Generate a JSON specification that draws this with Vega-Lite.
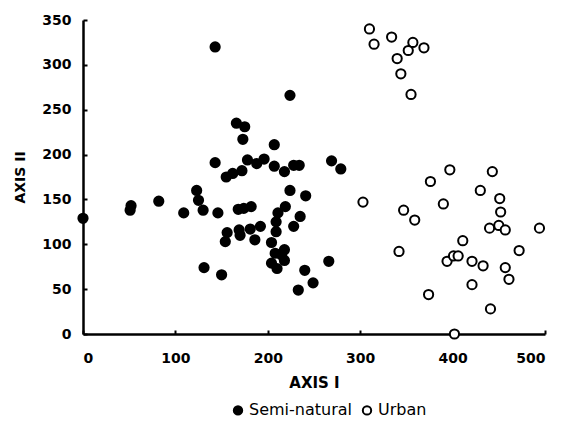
{
  "$schema": "https://vega.github.io/schema/vega-lite/v6.json",
  "autosize": "none",
  "width": 462,
  "height": 314,
  "padding": {"left": 83, "top": 20, "right": 18, "bottom": 87},
  "background": "white",
  "config": {"view": {"stroke": null}, "font": "DejaVu Sans"},
  "data": {"values": [
    {"x": 0, "y": 129, "g": "Semi-natural"},
    {"x": 52, "y": 143, "g": "Semi-natural"},
    {"x": 51, "y": 138, "g": "Semi-natural"},
    {"x": 82, "y": 148, "g": "Semi-natural"},
    {"x": 109, "y": 135, "g": "Semi-natural"},
    {"x": 123, "y": 160, "g": "Semi-natural"},
    {"x": 125, "y": 149, "g": "Semi-natural"},
    {"x": 130, "y": 138, "g": "Semi-natural"},
    {"x": 146, "y": 135, "g": "Semi-natural"},
    {"x": 131, "y": 74, "g": "Semi-natural"},
    {"x": 150, "y": 66, "g": "Semi-natural"},
    {"x": 143, "y": 320, "g": "Semi-natural"},
    {"x": 224, "y": 266, "g": "Semi-natural"},
    {"x": 166, "y": 235, "g": "Semi-natural"},
    {"x": 175, "y": 231, "g": "Semi-natural"},
    {"x": 173, "y": 217, "g": "Semi-natural"},
    {"x": 207, "y": 211, "g": "Semi-natural"},
    {"x": 143, "y": 191, "g": "Semi-natural"},
    {"x": 178, "y": 194, "g": "Semi-natural"},
    {"x": 188, "y": 190, "g": "Semi-natural"},
    {"x": 196, "y": 195, "g": "Semi-natural"},
    {"x": 155, "y": 175, "g": "Semi-natural"},
    {"x": 162, "y": 179, "g": "Semi-natural"},
    {"x": 172, "y": 182, "g": "Semi-natural"},
    {"x": 207, "y": 187, "g": "Semi-natural"},
    {"x": 218, "y": 181, "g": "Semi-natural"},
    {"x": 228, "y": 188, "g": "Semi-natural"},
    {"x": 234, "y": 188, "g": "Semi-natural"},
    {"x": 269, "y": 193, "g": "Semi-natural"},
    {"x": 279, "y": 184, "g": "Semi-natural"},
    {"x": 224, "y": 160, "g": "Semi-natural"},
    {"x": 241, "y": 154, "g": "Semi-natural"},
    {"x": 219, "y": 142, "g": "Semi-natural"},
    {"x": 235, "y": 131, "g": "Semi-natural"},
    {"x": 228, "y": 120, "g": "Semi-natural"},
    {"x": 211, "y": 135, "g": "Semi-natural"},
    {"x": 209, "y": 125, "g": "Semi-natural"},
    {"x": 209, "y": 114, "g": "Semi-natural"},
    {"x": 168, "y": 139, "g": "Semi-natural"},
    {"x": 174, "y": 140, "g": "Semi-natural"},
    {"x": 182, "y": 142, "g": "Semi-natural"},
    {"x": 156, "y": 113, "g": "Semi-natural"},
    {"x": 154, "y": 103, "g": "Semi-natural"},
    {"x": 169, "y": 116, "g": "Semi-natural"},
    {"x": 170, "y": 110, "g": "Semi-natural"},
    {"x": 181, "y": 117, "g": "Semi-natural"},
    {"x": 192, "y": 120, "g": "Semi-natural"},
    {"x": 186, "y": 105, "g": "Semi-natural"},
    {"x": 204, "y": 102, "g": "Semi-natural"},
    {"x": 208, "y": 90, "g": "Semi-natural"},
    {"x": 218, "y": 94, "g": "Semi-natural"},
    {"x": 215, "y": 88, "g": "Semi-natural"},
    {"x": 218, "y": 82, "g": "Semi-natural"},
    {"x": 204, "y": 79, "g": "Semi-natural"},
    {"x": 210, "y": 73, "g": "Semi-natural"},
    {"x": 266, "y": 81, "g": "Semi-natural"},
    {"x": 240, "y": 71, "g": "Semi-natural"},
    {"x": 249, "y": 57, "g": "Semi-natural"},
    {"x": 233, "y": 49, "g": "Semi-natural"},
    {"x": 310, "y": 340, "g": "Urban"},
    {"x": 315, "y": 323, "g": "Urban"},
    {"x": 334, "y": 331, "g": "Urban"},
    {"x": 357, "y": 325, "g": "Urban"},
    {"x": 369, "y": 319, "g": "Urban"},
    {"x": 352, "y": 316, "g": "Urban"},
    {"x": 340, "y": 307, "g": "Urban"},
    {"x": 344, "y": 290, "g": "Urban"},
    {"x": 355, "y": 267, "g": "Urban"},
    {"x": 303, "y": 147, "g": "Urban"},
    {"x": 342, "y": 92, "g": "Urban"},
    {"x": 347, "y": 138, "g": "Urban"},
    {"x": 359, "y": 127, "g": "Urban"},
    {"x": 376, "y": 170, "g": "Urban"},
    {"x": 374, "y": 44, "g": "Urban"},
    {"x": 397, "y": 183, "g": "Urban"},
    {"x": 390, "y": 145, "g": "Urban"},
    {"x": 411, "y": 104, "g": "Urban"},
    {"x": 394, "y": 81, "g": "Urban"},
    {"x": 401, "y": 87, "g": "Urban"},
    {"x": 406, "y": 87, "g": "Urban"},
    {"x": 421, "y": 81, "g": "Urban"},
    {"x": 421, "y": 55, "g": "Urban"},
    {"x": 433, "y": 76, "g": "Urban"},
    {"x": 430, "y": 160, "g": "Urban"},
    {"x": 443, "y": 181, "g": "Urban"},
    {"x": 451, "y": 151, "g": "Urban"},
    {"x": 452, "y": 136, "g": "Urban"},
    {"x": 440, "y": 118, "g": "Urban"},
    {"x": 450, "y": 121, "g": "Urban"},
    {"x": 457, "y": 116, "g": "Urban"},
    {"x": 441, "y": 28, "g": "Urban"},
    {"x": 457, "y": 74, "g": "Urban"},
    {"x": 461, "y": 61, "g": "Urban"},
    {"x": 472, "y": 93, "g": "Urban"},
    {"x": 494, "y": 118, "g": "Urban"},
    {"x": 402, "y": 0, "g": "Urban"}
  ]},
  "mark": {"type": "point", "shape": "circle", "filled": true, "stroke": "black", "strokeWidth": 2, "opacity": 1, "size": 85},
  "encoding": {
    "x": {"field": "x", "type": "quantitative", "scale": {"domain": [0, 500], "nice": false, "zero": false},
      "axis": {"title": "AXIS I", "values": [0, 100, 200, 300, 400, 500], "grid": false, "domainColor": "black", "domainWidth": 2.5, "tickColor": "black", "tickSize": -4, "tickWidth": 2, "labelPadding": 21, "labelFont": "DejaVu Sans", "labelFontWeight": "bold", "labelFontSize": 14, "labelColor": "black", "titleFont": "DejaVu Sans", "titleFontSize": 15, "titleFontWeight": "bold", "titleColor": "black", "titlePadding": 10}},
    "y": {"field": "y", "type": "quantitative", "scale": {"domain": [0, 350], "nice": false, "zero": false},
      "axis": {"title": "AXIS II", "values": [0, 50, 100, 150, 200, 250, 300, 350], "grid": false, "domainColor": "black", "domainWidth": 2.5, "tickColor": "black", "tickSize": -4, "tickWidth": 2, "labelPadding": 16, "labelFont": "DejaVu Sans", "labelFontWeight": "bold", "labelFontSize": 14, "labelColor": "black", "titleFont": "DejaVu Sans", "titleFontSize": 14, "titleFontWeight": "bold", "titleColor": "black", "titlePadding": 14}},
    "fill": {"field": "g", "type": "nominal", "scale": {"domain": ["Semi-natural", "Urban"], "range": ["black", "white"]},
      "legend": {"title": null, "orient": "none", "direction": "horizontal", "legendX": 145, "legendY": 380, "padding": 2, "labelFont": "DejaVu Sans", "labelFontSize": 16, "labelColor": "black", "symbolType": "circle", "symbolStrokeColor": "black", "symbolStrokeWidth": 2, "symbolSize": 70, "columnPadding": 6, "labelOffset": 3}}
  }
}
